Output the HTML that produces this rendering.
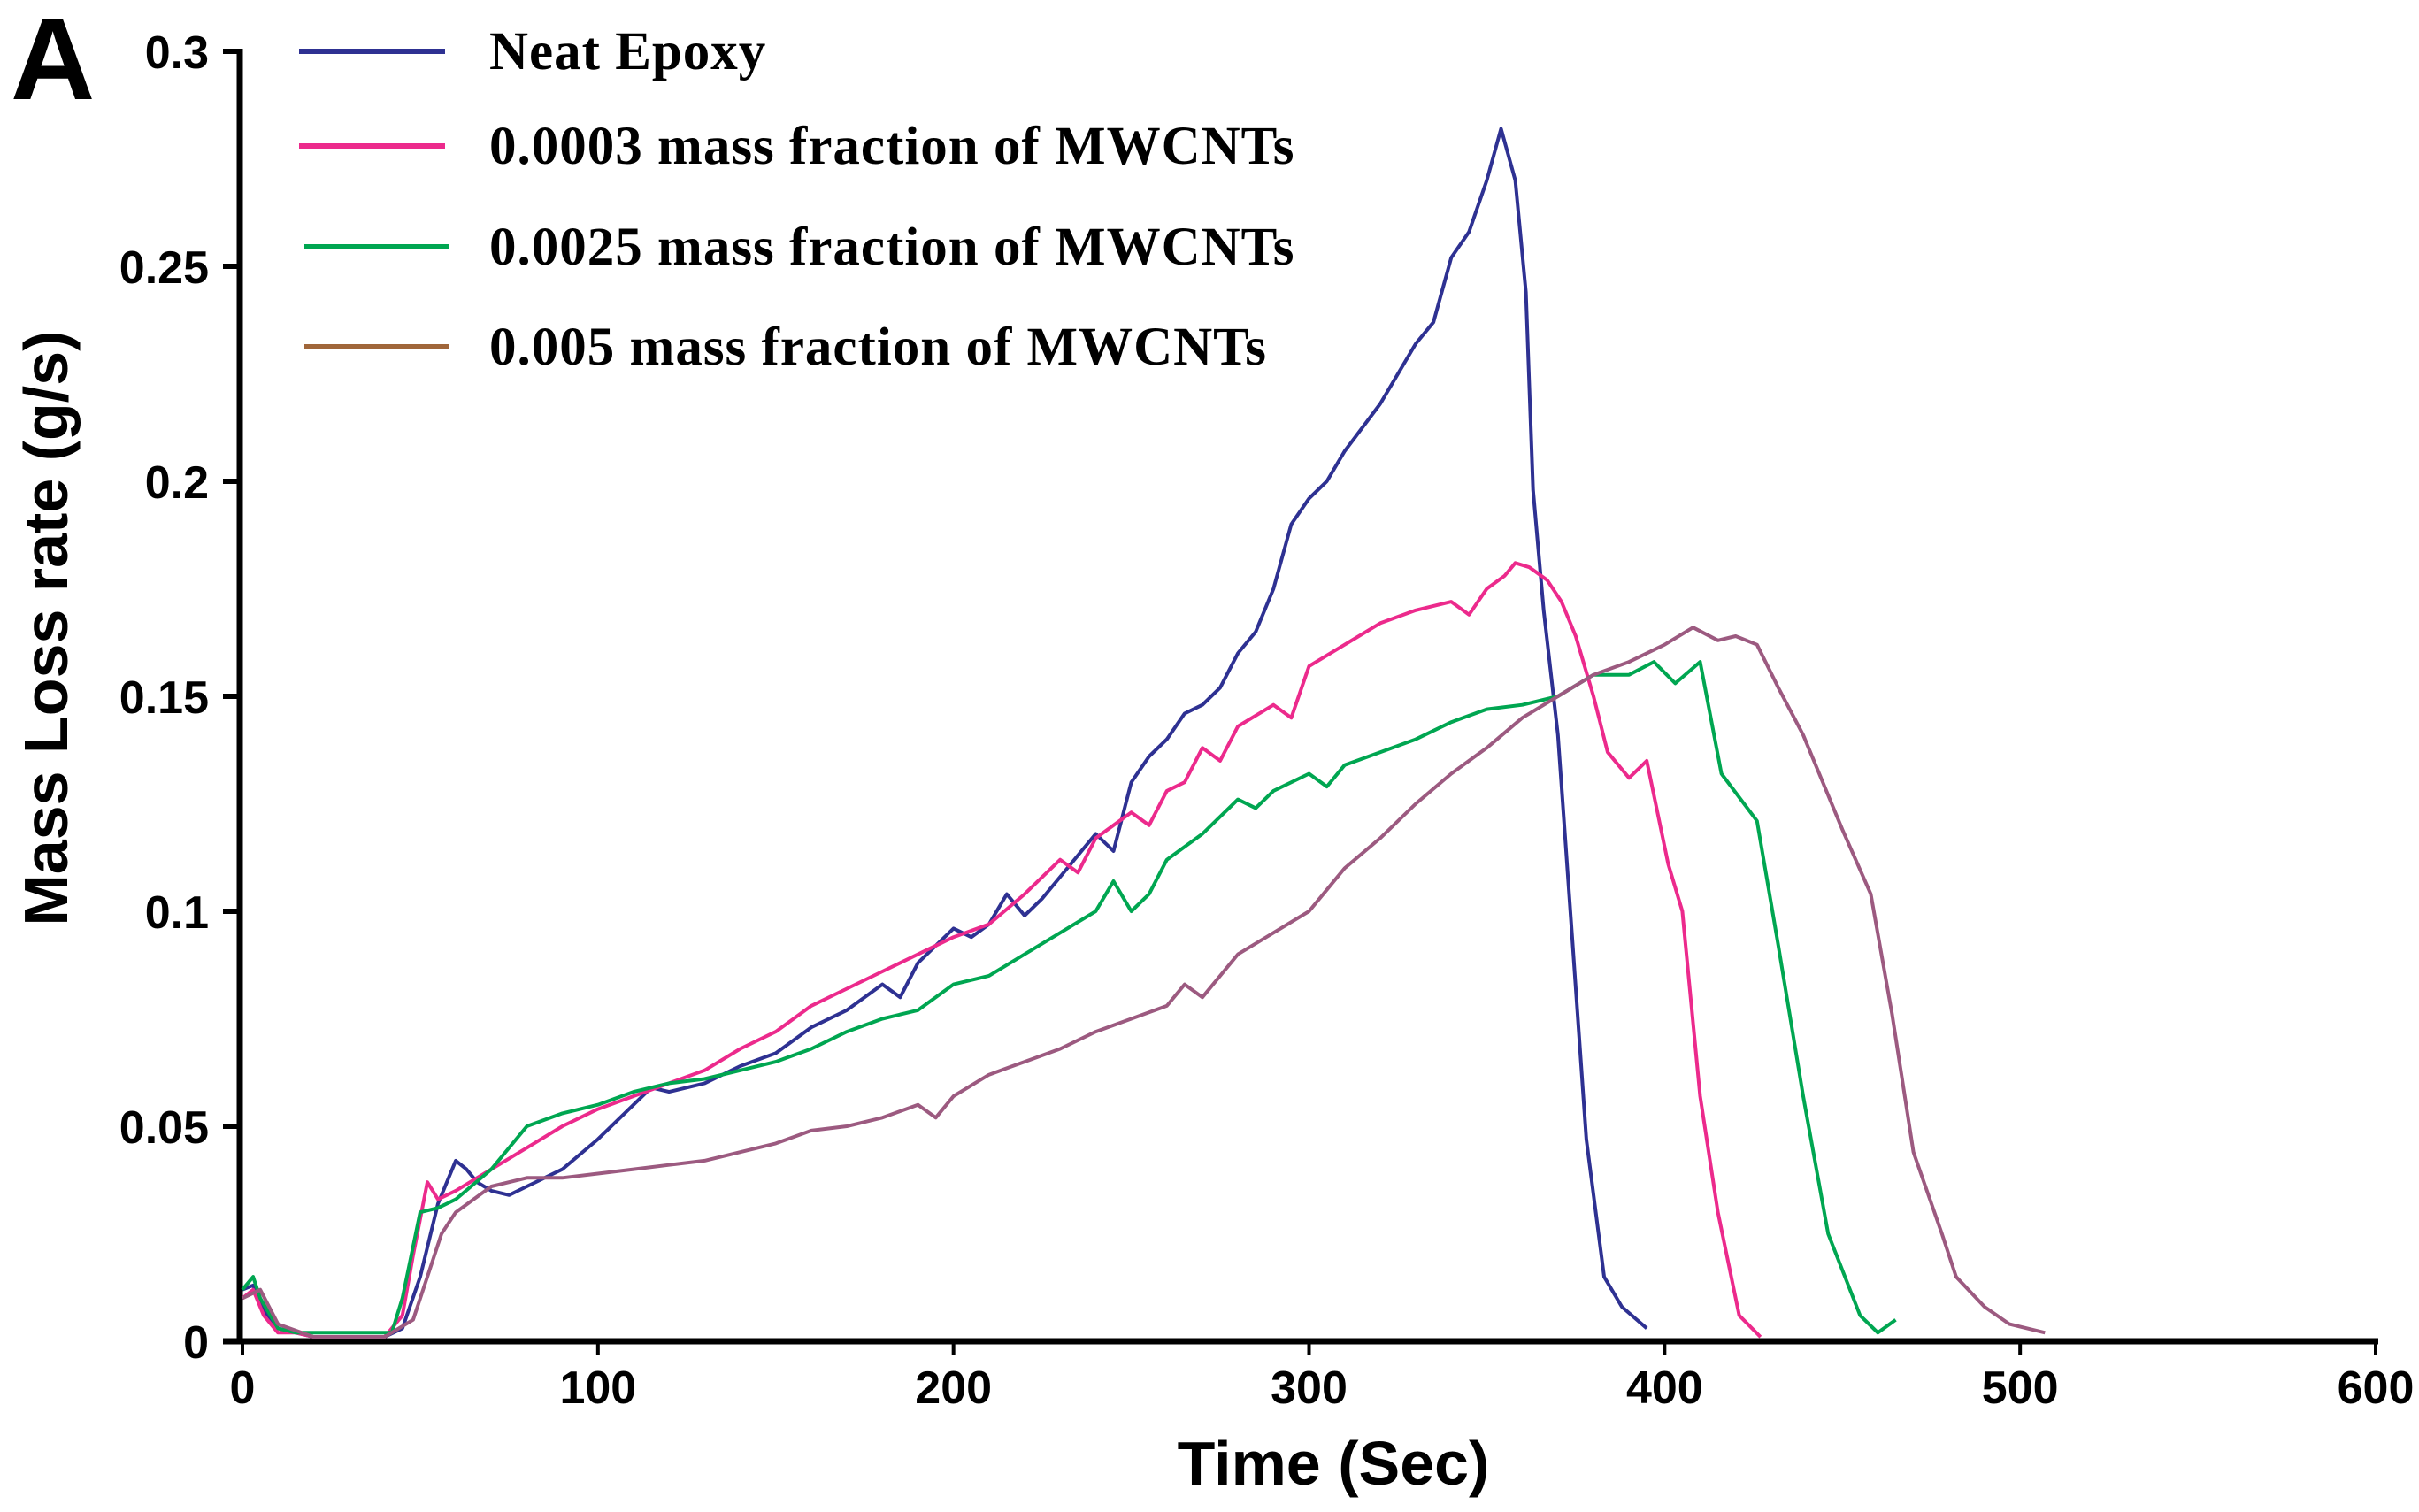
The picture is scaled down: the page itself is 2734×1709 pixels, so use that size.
<!DOCTYPE html>
<html><head><meta charset="utf-8"><style>
html,body{margin:0;padding:0;background:#fff;}
svg{display:block;}
.tick{font-family:"Liberation Sans",Arial,sans-serif;font-weight:bold;font-size:52px;fill:#000;}
.leg{font-family:"Liberation Serif",serif;font-weight:bold;font-size:61px;fill:#000;letter-spacing:1px;}
.ttl{font-family:"Liberation Sans",Arial,sans-serif;font-weight:bold;font-size:70px;fill:#000;}
</style></head><body>
<svg id="chart" width="2734" height="1709" viewBox="0 0 2734 1709" xmlns="http://www.w3.org/2000/svg">
<text x="12" y="112" font-family="Liberation Sans,Arial,sans-serif" font-weight="bold" font-size="132">A</text>
<g id="axes"></g>
<g id="series"></g>
<g id="legend"></g>
<text class="ttl" x="1507" y="1678" text-anchor="middle">Time (Sec)</text>
<text class="ttl" transform="translate(76,710) rotate(-90)" text-anchor="middle">Mass Loss rate (g/s)</text>
</svg>
<script>
const xTicks=[0,100,200,300,400,500,600];
const yTicks=[0,0.05,0.1,0.15,0.2,0.25,0.3];
const yTickLabels=["0","0.05","0.1","0.15","0.2","0.25","0.3"];
const seriesNames=["Neat Epoxy","0.0003 mass fraction of MWCNTs","0.0025 mass fraction of MWCNTs","0.005 mass fraction of MWCNTs"];
const neatT=[0,3,6,10,15,20,30,40,45,50,55,60,63,66,70,75,80,90,100,110,115,120,130,140,150,160,170,180,185,190,200,205,210,215,220,225,230,240,245,250,255,260,265,270,275,280,285,290,295,300,305,310,320,330,335,340,345,350,354,358,361,363,366,370,374,378,383,388,395];
const neatV=[0.012,0.013,0.007,0.003,0.002,0.001,0.001,0.001,0.003,0.015,0.032,0.042,0.04,0.037,0.035,0.034,0.036,0.04,0.047,0.055,0.059,0.058,0.06,0.064,0.067,0.073,0.077,0.083,0.08,0.088,0.096,0.094,0.097,0.104,0.099,0.103,0.108,0.118,0.114,0.13,0.136,0.14,0.146,0.148,0.152,0.16,0.165,0.175,0.19,0.196,0.2,0.207,0.218,0.232,0.237,0.252,0.258,0.27,0.282,0.27,0.244,0.198,0.17,0.141,0.094,0.047,0.015,0.008,0.003];
const p3T=[0,3,6,10,15,20,30,40,45,48,52,55,60,70,80,90,100,110,120,130,140,150,160,170,180,190,200,210,220,230,235,240,250,255,260,265,270,275,280,290,295,300,310,320,330,340,345,350,355,358,362,367,371,375,380,384,390,395,401,405,410,415,421,427];
const p3V=[0.01,0.012,0.006,0.002,0.002,0.001,0.001,0.001,0.006,0.02,0.037,0.033,0.035,0.04,0.045,0.05,0.054,0.057,0.06,0.063,0.068,0.072,0.078,0.082,0.086,0.09,0.094,0.097,0.104,0.112,0.109,0.117,0.123,0.12,0.128,0.13,0.138,0.135,0.143,0.148,0.145,0.157,0.162,0.167,0.17,0.172,0.169,0.175,0.178,0.181,0.18,0.177,0.172,0.164,0.15,0.137,0.131,0.135,0.111,0.1,0.057,0.03,0.006,0.001];
const p25T=[0,3,5,10,15,20,30,42,45,50,55,60,70,80,90,100,110,120,130,140,150,160,170,180,190,200,210,220,230,240,245,250,255,260,270,280,285,290,300,305,310,320,330,340,350,360,370,380,390,397,403,410,416,426,432,439,446,455,460,465];
const p25V=[0.012,0.015,0.01,0.003,0.002,0.002,0.002,0.002,0.01,0.03,0.031,0.033,0.04,0.05,0.053,0.055,0.058,0.06,0.061,0.063,0.065,0.068,0.072,0.075,0.077,0.083,0.085,0.09,0.095,0.1,0.107,0.1,0.104,0.112,0.118,0.126,0.124,0.128,0.132,0.129,0.134,0.137,0.14,0.144,0.147,0.148,0.15,0.155,0.155,0.158,0.153,0.158,0.132,0.121,0.092,0.057,0.025,0.006,0.002,0.005];
const p5T=[0,5,10,20,40,48,52,56,60,65,70,80,90,100,110,120,130,140,150,160,170,180,190,195,200,210,220,230,240,250,260,265,270,280,290,300,305,310,320,330,340,350,360,370,380,390,400,408,415,420,426,432,439,450,458,464,470,478,482,490,497,507];
const p5V=[0.01,0.012,0.004,0.001,0.001,0.005,0.015,0.025,0.03,0.033,0.036,0.038,0.038,0.039,0.04,0.041,0.042,0.044,0.046,0.049,0.05,0.052,0.055,0.052,0.057,0.062,0.065,0.068,0.072,0.075,0.078,0.083,0.08,0.09,0.095,0.1,0.105,0.11,0.117,0.125,0.132,0.138,0.145,0.15,0.155,0.158,0.162,0.166,0.163,0.164,0.162,0.152,0.141,0.119,0.104,0.076,0.044,0.025,0.015,0.008,0.004,0.002];
const colors=["#2e3192","#ec2a8c","#00a651","#9c5a80"];
const legendColors=["#2e3192","#ec2a8c","#00a651","#a0663a"];

const X0=274,X1=2685,Y0=1516,Y1=58;
const xs=t=>X0+(t-0)/(600-0)*(X1-X0);
const ys=v=>Y0-(v-0)/(0.3-0)*(Y0-Y1);
const NS="http://www.w3.org/2000/svg";
function mk(tag,attrs,parent){const e=document.createElementNS(NS,tag);for(const k in attrs)e.setAttribute(k,attrs[k]);parent.appendChild(e);return e;}
const axes=document.getElementById('axes');
let el=mk('line',{x1:271,y1:55,x2:271,y2:1519,stroke:'#000','stroke-width':7},axes);


el=mk('line',{x1:252,y1:1516,x2:2688,y2:1516,stroke:'#000','stroke-width':7},axes);


yTicks.forEach((v,i)=>{
  const y=ys(v);
  let t=mk('line',{x1:252,y1:y,x2:271,y2:y,stroke:'#000','stroke-width':6},axes);
  
  
  let l=mk('text',{x:236,y:y+19,'text-anchor':'end','class':'tick'},axes);
  l.textContent=yTickLabels[i];
  
  
});
xTicks.forEach(v=>{
  const x=xs(v);
  let t=mk('line',{x1:x,y1:1516,x2:x,y2:1532,stroke:'#000','stroke-width':4},axes);
  
  
  let l=mk('text',{x:x,y:1586,'text-anchor':'middle','class':'tick'},axes);
  l.textContent=String(v);
  
  
});
const sg=document.getElementById('series');
const data=[[neatT,neatV],[p3T,p3V],[p25T,p25V],[p5T,p5V]];
const sNames=['neat-epoxy-line','mwcnt-0003-line','mwcnt-0025-line','mwcnt-005-line'];
data.forEach((d,i)=>{
  const pts=d[0].map((t,j)=>xs(t).toFixed(1)+','+ys(d[1][j]).toFixed(1)).join(' ');
  const p=mk('polyline',{points:pts,fill:'none',stroke:colors[i],'stroke-width':4,'stroke-linejoin':'round'},sg);
  
  
});
const lg=document.getElementById('legend');
const legY=[58,165,279,392];
seriesNames.forEach((n,i)=>{
  const g=mk('g',{},lg);
  
  
  mk('line',{x1:i<2?338:344,y1:legY[i],x2:i<2?503:508,y2:legY[i],stroke:legendColors[i],'stroke-width':6},g);
  const t=mk('text',{x:553,y:legY[i]+20,'class':'leg'},g);
  t.textContent=n;
});
</script>
</body></html>
